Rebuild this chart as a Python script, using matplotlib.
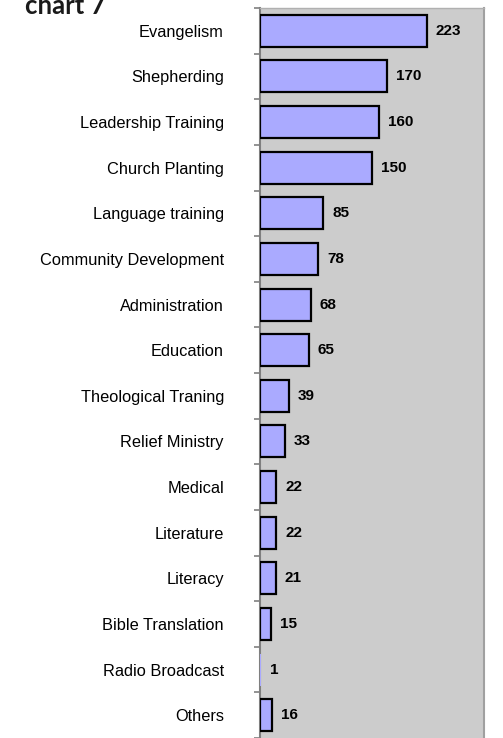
import matplotlib
matplotlib.use("Agg")
import matplotlib.pyplot as plt
import numpy as np

categories = [
    "Evangelism", "Shepherding", "Leadership Training", "Church Planting",
    "Language training", "Community Development", "Administration", "Education",
    "Theological Traning", "Relief Ministry", "Medical", "Literature",
    "Literacy", "Bible Translation", "Radio Broadcast", "Others",
]
counts = [223, 170, 160, 150, 85, 78, 68, 65, 39, 33, 22, 22, 21, 15, 1, 16]
title = "chart 7"

W, H, DPI = 503, 738, 100
fig = plt.figure(figsize=(W / DPI, H / DPI), dpi=DPI)
fig.patch.set_facecolor("white")

ax_left, ax_right, ax_top = 260 / W, 484 / W, 8 / H
ax = fig.add_axes([ax_left, 0.0, ax_right - ax_left, 1 - ax_top])
ax.set_facecolor("#cccccc")

xmax = 300
ax.set_xlim(0, xmax)
ax.set_ylim(len(categories) - 0.5, -0.5)

y = np.arange(len(categories))
px_per_unit = (ax_right - ax_left) * W / xmax
edge_lw = 1.6
edges = ["black" if c * px_per_unit > 3 else "none" for c in counts]
ax.barh(y, counts, height=0.7, color="#aaaaff", edgecolor=edges,
        linewidth=edge_lw, zorder=3)

for yi, c in zip(y, counts):
    ax.annotate(str(c), xy=(c, yi), xytext=(6.5, 0), textcoords="offset points",
                ha="left", va="center", fontsize=11, fontweight="bold",
                family="Liberation Sans", color="black", zorder=4)

ax.set_yticks(y)
ax.set_yticklabels(categories, family="Liberation Sans", fontsize=11.8)
ax.tick_params(axis="y", which="major", length=0, pad=26)
ax.set_yticks(np.arange(-0.5, len(categories), 1.0), minor=True)
ax.tick_params(axis="y", which="minor", length=4, width=1.2, color="#808080",
               direction="out")
ax.set_xticks([])

ax.spines["left"].set_color("#7f7f7f")
ax.spines["left"].set_linewidth(1.5)
ax.spines["right"].set_color("#a0a0a0")
ax.spines["right"].set_linewidth(1.5)
ax.spines["top"].set_color("#b0b0b0")
ax.spines["top"].set_linewidth(1.0)
ax.spines["bottom"].set_visible(False)

fig.text(25 / W, 1 - 14 / H, title, ha="left", va="baseline",
         fontsize=18.5, fontweight="bold", family="Lato", color="#1a1a1a")

fig.savefig("out.png", dpi=DPI, facecolor="white")
